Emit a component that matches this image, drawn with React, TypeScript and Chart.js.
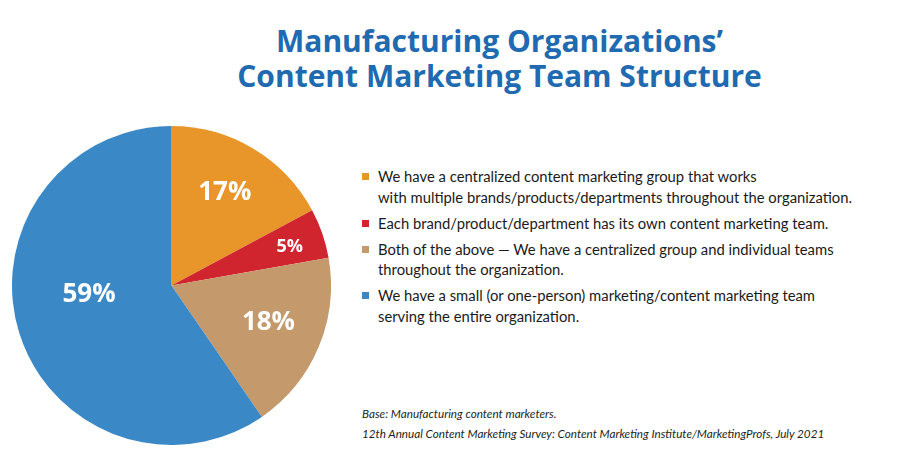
import { useEffect, useRef } from 'react';
import { Chart, ChartConfiguration, registerables } from 'chart.js';

Chart.register(...registerables);

const titleLines = ['Manufacturing Organizations’', 'Content Marketing Team Structure'];
const categories = [
  'We have a centralized content marketing group that works\nwith multiple brands/products/departments throughout the organization.',
  'Each brand/product/department has its own content marketing team.',
  'Both of the above — We have a centralized group and individual teams\nthroughout the organization.',
  'We have a small (or one-person) marketing/content marketing team\nserving the entire organization.',
];
const values = [17, 5, 18, 59];
const colors = ['#E8962A', '#D0252E', '#C49A6C', '#3A88C6'];
const footnotes = [
  'Base: Manufacturing content marketers.',
  '12th Annual Content Marketing Survey: Content Marketing Institute/MarketingProfs, July 2021',
];

// label placement inside each slice: [radius factor, angle nudge in degrees, font size]
const labelStyle: [number, number, number][] = [
  [0.67, -1, 26],
  [0.78, 1, 18],
  [0.65, -2, 26],
  [0.52, 11, 26],
];

const sliceLabels = {
  id: 'sliceLabels',
  afterDatasetsDraw(chart: Chart) {
    const ctx = chart.ctx;
    const meta = chart.getDatasetMeta(0);
    ctx.save();
    ctx.fillStyle = '#ffffff';
    ctx.textAlign = 'center';
    ctx.textBaseline = 'middle';
    meta.data.forEach((el: any, i: number) => {
      const { x, y, startAngle, endAngle, outerRadius } = el.getProps(
        ['x', 'y', 'startAngle', 'endAngle', 'outerRadius'],
        true
      );
      const [rf, nudge, size] = labelStyle[i];
      const a = (startAngle + endAngle) / 2 + (nudge * Math.PI) / 180;
      const r = outerRadius * rf;
      ctx.font = `bold ${size}px "Open Sans", "Noto Sans", sans-serif`;
      ctx.fillText(`${values[i]}%`, x + Math.cos(a) * r, y + Math.sin(a) * r);
    });
    ctx.restore();
  },
};

export default function App() {
  const chartRef = useRef<HTMLCanvasElement>(null);
  const chartInstance = useRef<Chart | null>(null);

  useEffect(() => {
    if (chartRef.current) {
      const ctx = chartRef.current.getContext('2d');
      if (ctx) {
        if (chartInstance.current) {
          chartInstance.current.destroy();
        }

        const config: ChartConfiguration = {
          type: 'pie',
          data: {
            labels: categories,
            datasets: [{
              data: values,
              backgroundColor: colors,
              borderWidth: 0,
            }],
          },
          options: {
            animation: false,
            responsive: false,
            maintainAspectRatio: false,
            layout: { padding: 0 },
            plugins: {
              legend: { display: false },
              tooltip: { enabled: false },
            },
          },
          plugins: [sliceLabels],
        };

        chartInstance.current = new Chart(ctx, config);
      }
    }

    return () => {
      if (chartInstance.current) {
        chartInstance.current.destroy();
        chartInstance.current = null;
      }
    };
  }, []);

  return (
    <div
      style={{
        position: 'absolute',
        left: 0,
        top: 0,
        width: 900,
        height: 473,
        background: '#ffffff',
        overflow: 'hidden',
      }}
    >
      <div
        style={{
          position: 'absolute',
          left: 0,
          top: 22.5,
          width: 999,
          textAlign: 'center',
          color: '#1F6AB0',
          fontFamily: '"Open Sans", "Noto Sans", sans-serif',
          fontWeight: 700,
          fontSize: 30,
          lineHeight: '35px',
          whiteSpace: 'nowrap',
        }}
      >
        {titleLines.map((t) => (
          <div key={t}>{t}</div>
        ))}
      </div>

      <canvas
        ref={chartRef}
        width={319}
        height={319}
        style={{ position: 'absolute', left: 12, top: 126, width: 319, height: 319 }}
      />

      <div
        style={{
          position: 'absolute',
          left: 362,
          top: 166,
          width: 530,
          fontFamily: 'Lato, sans-serif',
          fontSize: 14.8,
          lineHeight: '20.5px',
          color: '#1a1a1a',
        }}
      >
        {categories.map((c, i) => (
          <div key={i} style={{ position: 'relative', paddingLeft: 16, marginBottom: 5.5 }}>
            <span
              style={{
                position: 'absolute',
                left: 0,
                top: 7,
                width: 7,
                height: 7,
                background: colors[i],
              }}
            />
            <span style={{ whiteSpace: 'pre-line' }}>{c}</span>
          </div>
        ))}
      </div>

      <div
        style={{
          position: 'absolute',
          left: 362,
          top: 403,
          fontFamily: 'Lato, sans-serif',
          fontStyle: 'italic',
          fontSize: 11.7,
          lineHeight: '20px',
          color: '#231F20',
          whiteSpace: 'nowrap',
        }}
      >
        {footnotes.map((f) => (
          <div key={f}>{f}</div>
        ))}
      </div>
    </div>
  );
}
